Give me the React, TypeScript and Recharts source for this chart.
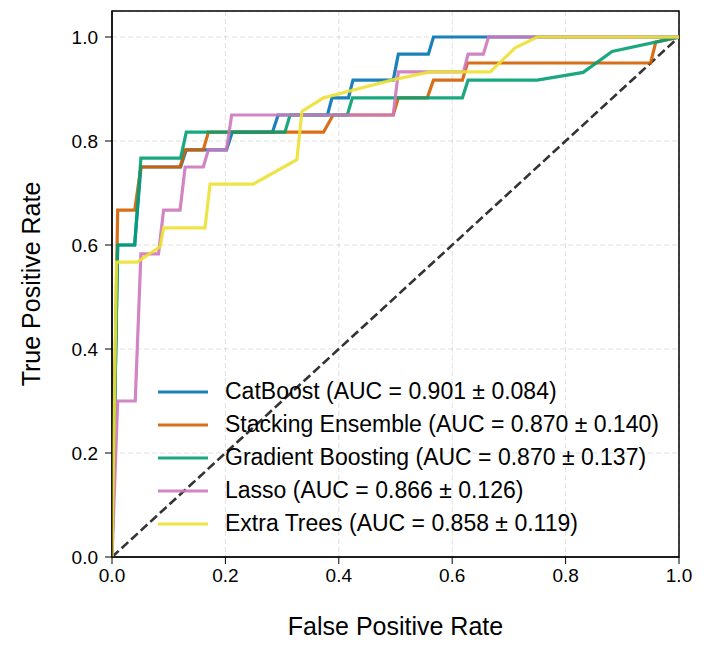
import React from 'react';
import {
  LineChart, Line, XAxis, YAxis, CartesianGrid, ReferenceArea, Legend,
} from 'recharts';

// mean ROC curves
const catboostFpr = [0, 0.010, 0.040, 0.051, 0.121, 0.131, 0.202, 0.212, 0.283, 0.293, 0.380, 0.388, 0.417, 0.425, 0.496, 0.505, 0.558, 0.567, 1];
const catboostTpr = [0, 0.600, 0.600, 0.750, 0.750, 0.783, 0.783, 0.817, 0.817, 0.850, 0.850, 0.883, 0.883, 0.917, 0.917, 0.967, 0.967, 1, 1];

const stackingFpr = [0, 0.010, 0.040, 0.051, 0.120, 0.129, 0.161, 0.170, 0.373, 0.390, 0.496, 0.505, 0.556, 0.567, 0.618, 0.627, 0.950, 0.959, 1];
const stackingTpr = [0, 0.667, 0.667, 0.750, 0.750, 0.783, 0.783, 0.817, 0.817, 0.850, 0.850, 0.883, 0.883, 0.917, 0.917, 0.950, 0.950, 0.990, 1];

const gradientFpr = [0, 0.010, 0.040, 0.051, 0.121, 0.131, 0.305, 0.314, 0.415, 0.424, 0.618, 0.628, 0.750, 0.831, 0.882, 1];
const gradientTpr = [0, 0.600, 0.600, 0.767, 0.767, 0.817, 0.817, 0.850, 0.850, 0.883, 0.883, 0.917, 0.917, 0.932, 0.972, 1];

const lassoFpr = [0, 0.010, 0.041, 0.051, 0.082, 0.091, 0.120, 0.129, 0.161, 0.170, 0.202, 0.211, 0.496, 0.505, 0.620, 0.628, 0.655, 0.664, 1];
const lassoTpr = [0, 0.300, 0.300, 0.583, 0.583, 0.667, 0.667, 0.750, 0.750, 0.783, 0.783, 0.850, 0.850, 0.933, 0.933, 0.967, 0.967, 1, 1];

const extraFpr = [0, 0.008, 0.044, 0.085, 0.091, 0.164, 0.173, 0.249, 0.326, 0.335, 0.373, 0.426, 0.497, 0.561, 0.667, 0.711, 0.750, 1];
const extraTpr = [0, 0.567, 0.567, 0.597, 0.633, 0.633, 0.717, 0.717, 0.764, 0.857, 0.883, 0.898, 0.918, 0.933, 0.933, 0.979, 1, 1];

const chanceFpr = [0, 1];
const chanceTpr = [0, 1];

const modelNames = ['CatBoost', 'Stacking Ensemble', 'Gradient Boosting', 'Lasso', 'Extra Trees'];
const aucMeans = ['0.901', '0.870', '0.870', '0.866', '0.858'];
const aucStds = ['0.084', '0.140', '0.137', '0.126', '0.119'];
const colors = ['#0173B2', '#D55E00', '#029E73', '#CC78BC', '#ECE133'];

const ticks = [0, 0.2, 0.4, 0.6, 0.8, 1.0];

const toPoints = (fpr: number[], tpr: number[]) => fpr.map((f, i) => ({ fpr: f, tpr: tpr[i] }));

const curves = [
  toPoints(catboostFpr, catboostTpr),
  toPoints(stackingFpr, stackingTpr),
  toPoints(gradientFpr, gradientTpr),
  toPoints(lassoFpr, lassoTpr),
  toPoints(extraFpr, extraTpr),
];

const FONT = '"Liberation Sans", Arial, Helvetica, sans-serif';

const renderLegend = () => (
  <div style={{ fontFamily: FONT, fontSize: 23, color: '#000' }}>
    {modelNames.map((name, i) => (
      <div key={name} style={{ display: 'flex', alignItems: 'center', height: 33.1 }}>
        <svg width={50} height={6} style={{ marginRight: 17 }}>
          <line x1={0} y1={3} x2={50} y2={3} stroke={colors[i]} strokeWidth={3.2} strokeOpacity={0.9} />
        </svg>
        <span style={{ whiteSpace: 'nowrap' }}>{`${name} (AUC = ${aucMeans[i]} ± ${aucStds[i]})`}</span>
      </div>
    ))}
  </div>
);

export default function App() {
  return (
    <div style={{ position: 'relative', width: 710, height: 651 }}>
      <LineChart width={710} height={651} margin={{ top: 3, right: 39, bottom: 0, left: 0 }}>
        <CartesianGrid stroke="#cccccc" strokeOpacity={0.6} strokeDasharray="5 3" />
        <XAxis
          type="number"
          dataKey="fpr"
          domain={[0, 1]}
          ticks={ticks}
          allowDataOverflow
          tickFormatter={(v: number) => v.toFixed(1)}
          height={102}
          tickSize={7}
          tickMargin={5}
          stroke="#000"
          tick={{ fill: '#000', fontSize: 19, fontFamily: FONT }}
          label={{ value: 'False Positive Rate', position: 'insideBottom', offset: 24, style: { fontSize: 25, fill: '#000', fontFamily: FONT } }}
        />
        <YAxis
          type="number"
          domain={[0, 1.05]}
          ticks={ticks}
          allowDataOverflow
          tickFormatter={(v: number) => v.toFixed(1)}
          width={104}
          tickSize={7}
          tickMargin={7}
          stroke="#000"
          tick={{ fill: '#000', fontSize: 19, fontFamily: FONT }}
          label={{ value: 'True Positive Rate', angle: -90, position: 'insideLeft', offset: 23, style: { textAnchor: 'middle', fontSize: 25, fill: '#000', fontFamily: FONT } }}
        />
        <Line
          data={toPoints(chanceFpr, chanceTpr)}
          dataKey="tpr"
          type="linear"
          stroke="#333333"
          strokeWidth={2.6}
          strokeDasharray="9 4"
          dot={false}
          activeDot={false}
          legendType="none"
          isAnimationActive={false}
        />
        {curves.map((pts, i) => (
          <Line
            key={modelNames[i]}
            data={pts}
            dataKey="tpr"
            name={modelNames[i]}
            type="linear"
            stroke={colors[i]}
            strokeOpacity={0.9}
            strokeWidth={3.2}
            dot={false}
            activeDot={false}
            isAnimationActive={false}
          />
        ))}
        <ReferenceArea x1={0} x2={1} y1={0} y2={1.05} fill="none" fillOpacity={0} stroke="#000" strokeWidth={1.5} />
        <Legend
          content={renderLegend}
          layout="vertical"
          align="center"
          verticalAlign="middle"
          wrapperStyle={{ left: 150, top: 367, width: 'auto' }}
        />
      </LineChart>
    </div>
  );
}
